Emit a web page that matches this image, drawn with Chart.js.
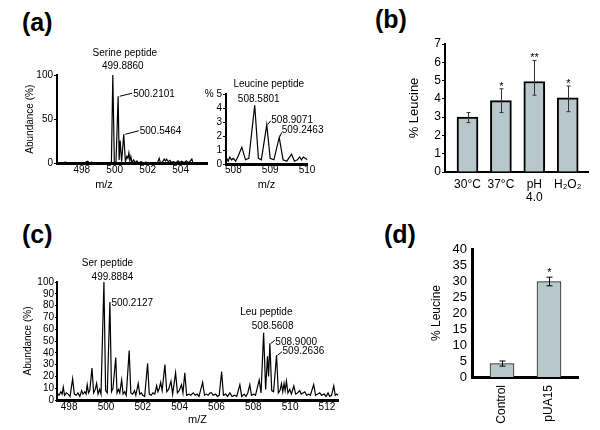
<!DOCTYPE html>
<html><head><meta charset="utf-8">
<script src="https://cdn.jsdelivr.net/npm/chart.js@4.4.1/dist/chart.umd.min.js"></script>
<style>
html,body{margin:0;padding:0;background:#fff;}
#wrap{position:relative;width:600px;height:430px;overflow:hidden;background:#fff;font-family:"Liberation Sans",Arial,sans-serif;}
canvas{position:absolute;}
.lbl{position:absolute;font-weight:bold;font-size:25px;line-height:25px;color:#000;}
</style></head><body>
<div id="wrap">
<div class="lbl" style="left:22px;top:10px">(a)</div>
<div class="lbl" style="left:375px;top:7px">(b)</div>
<div class="lbl" style="left:22px;top:222px">(c)</div>
<div class="lbl" style="left:384px;top:222px">(d)</div>
<canvas id="cA1" width="215" height="155" style="left:0px;top:40px"></canvas>
<canvas id="cA2" width="135" height="125" style="left:195px;top:70px"></canvas>
<canvas id="cB" width="215" height="185" style="left:380px;top:30px"></canvas>
<canvas id="cC" width="345" height="175" style="left:0px;top:255px"></canvas>
<canvas id="cD" width="170" height="200" style="left:420px;top:230px"></canvas>
</div>
<script>
// ---------- DATA ----------
// (a) serine peptide region
const serMz = [496.6,496.8,497.0,497.2,497.45,497.7,497.9,498.1,498.37,498.45,498.6,498.75,498.95,499.15,499.35,499.55,499.72,499.8,499.886,499.98,500.08,500.21,500.27,500.33,500.42,500.5464,500.65,500.74,500.8,500.86,500.92,500.98,501.05,501.15,501.25,501.35,501.45,501.6,501.75,501.9,502.05,502.25,502.45,502.6,502.7,502.78,502.9,503.0,503.08,503.15,503.25,503.35,503.45,503.55,503.7,503.85,503.95,504.05,504.2,504.35,504.45,504.55,504.68,504.75];
const serAb = [1,0.5,1.5,0.5,1,0.5,1,0.5,2.5,0.5,1.5,0.5,1,0.5,1,0.5,1,0,100,0,2,76,4,26,2,33,2,8,6,12,3,8,1,4,1,3,0.5,2,0.5,1.5,0.5,1,0.5,1,6,0.5,2,5,3,5,2,3.5,1,2,1,3,1,2.5,1,3,1,2,5,0.5];
// (a) leucine peptide region
const leuMz = [507.82,507.86,507.9,507.95,508.0,508.06,508.12,508.23,508.33,508.42,508.58,508.68,508.76,508.907,509.0,509.1,509.246,509.35,509.45,509.58,509.66,509.74,509.8,509.85,509.9,509.96,510.0];
const leuAb = [0.4,0.2,0.5,0.3,0.4,0.2,0.5,1.2,0.3,0.4,4.2,0.4,0.3,2.8,0.4,0.3,1.9,0.3,0.2,0.7,0.2,0.3,0.5,0.3,0.5,0.4,0.3];
// (b) growth conditions
const condLabels = ['30°C','37°C',['pH','4.0'],'H₂O₂'];
const condLeu  = [3.0,3.9,4.95,4.05];
const condLow  = [2.7,3.25,4.2,3.3];
const condHigh = [3.25,4.55,6.1,4.7];
const condSig  = ['','*','**','*'];
// (c) full spectrum
const fullMz = [497.34,497.45,497.55,497.62,497.68,497.75,497.85,497.95,498.05,498.19,498.28,498.38,498.48,498.58,498.68,498.75,498.85,498.92,498.98,499.05,499.12,499.24,499.33,499.42,499.49,499.57,499.66,499.73,499.8884,499.98,500.07,500.2127,500.3,500.38,500.53,500.6,500.68,500.75,500.85,500.93,501.02,501.1,501.26,501.35,501.45,501.55,501.62,501.75,501.83,501.92,502.0,502.1,502.26,502.35,502.45,502.55,502.65,502.75,502.82,502.9,502.97,503.05,503.2,503.3,503.4,503.53,503.62,503.78,503.88,503.98,504.1,504.18,504.28,504.38,504.5,504.6,504.74,504.85,504.95,505.05,505.25,505.35,505.45,505.55,505.65,505.73,505.82,505.95,506.05,506.15,506.28,506.38,506.5,506.6,506.73,506.85,506.98,507.1,507.27,507.37,507.5,507.6,507.7,507.81,507.9,508.02,508.12,508.32,508.42,508.5608,508.67,508.77,508.83,508.9,509.0,509.1,509.2636,509.36,509.45,509.53,509.6,509.67,509.73,509.8,509.88,509.98,510.07,510.2,510.3,510.4,510.52,510.6,510.7,510.8,510.9,511.0,511.1,511.28,511.38,511.5,511.61,511.7,511.85,511.95,512.06,512.15,512.25,512.37,512.45,512.52,512.6];
const fullAb = [6,4,7,5,11,4,6,5,3,18,5,4,6,3,8,5,7,5,13,6,8,27,6,9,14,5,9,5,100,8,6,83,7,10,36,6,9,6,17,5,7,4,42,6,5,8,4,14,5,6,4,3,31,5,4,6,5,12,7,10,15,8,30,7,9,16,5,23,6,8,13,6,23,4,5,4,6,4,5,3,15,4,5,4,6,6,4,5,3,4,24,4,5,3,6,3,4,3,13,3,5,3,6,13,4,5,4,17,6,57,9,37,20,48,8,7,38,6,8,14,7,14,8,16,6,9,5,12,5,6,8,5,6,7,4,5,4,13,4,5,6,4,5,3,6,3,4,12,4,5,4];
// (d) strains
const strainLabels = ['Control','pUA15'];
const strainLeu  = [4.2,29.8];
const strainLow  = [3.4,28.5];
const strainHigh = [5.0,31.2];
const strainSig  = ['','*'];
// tick labels
const ticksA1x = [498,500,502,504];
const ticksA1y = [0,50,100];
const ticksA2x = [508,509,510];
const ticksA2y = [0,1,2,3,4,5];
const ticksBy  = [0,1,2,3,4,5,6,7];
const ticksCx  = [498,500,502,504,506,508,510,512];
const ticksCy  = [0,10,20,30,40,50,60,70,80,90,100];
const ticksDy  = [0,5,10,15,20,25,30,35,40];

// ---------- HELPERS ----------
const FONT = '"Liberation Sans", Arial, Helvetica, sans-serif';
Chart.defaults.font.family = FONT;
Chart.defaults.color = '#000';
const BAR_FILL = 'rgb(184,199,203)';

function fit(w, h) {
  return s => {
    if (w !== undefined) s.width = w;
    if (h !== undefined) s.height = h;
    s.paddingLeft = 0; s.paddingRight = 0; s.paddingTop = 0; s.paddingBottom = 0;
  };
}
function setTicks(arr) { return s => { s.ticks = arr.map(v => ({value: v})); }; }
function pts(xs, ys) { return xs.map((x, i) => ({x: x, y: ys[i]})); }

const annot = {
  id: 'annot',
  afterDatasetsDraw(chart, args, o) {
    const ctx = chart.ctx, xs = chart.scales.x, ys = chart.scales.y;
    ctx.save();
    ctx.fillStyle = '#000'; ctx.strokeStyle = '#000'; ctx.lineWidth = 1;
    (o.items || []).forEach(it => {
      let bx, by;
      if (it.px !== undefined) { bx = it.px; by = it.py; }
      else { bx = xs.getPixelForValue(it.x); by = ys.getPixelForValue(it.y); }
      if (it.lead) {
        ctx.beginPath();
        ctx.moveTo(bx + it.lead[0], by + it.lead[1]);
        ctx.lineTo(bx + it.lead[2], by + it.lead[3]);
        ctx.stroke();
      }
      ctx.font = (it.size || 10) + 'px ' + FONT;
      ctx.textAlign = it.align || 'left';
      ctx.textBaseline = 'middle';
      ctx.fillText(it.t, bx + (it.dx || 0), by + (it.dy || 0));
    });
    ctx.restore();
  }
};

const errBars = {
  id: 'errBars',
  afterDatasetsDraw(chart, args, o) {
    if (!o.low) return;
    const ctx = chart.ctx, xs = chart.scales.x, ys = chart.scales.y;
    ctx.save();
    ctx.strokeStyle = o.color || '#000'; ctx.lineWidth = 1;
    o.low.forEach((lo, i) => {
      const px = Math.round(xs.getPixelForValue(i + 1)) + 0.5;
      const yl = ys.getPixelForValue(lo), yh = ys.getPixelForValue(o.high[i]);
      ctx.beginPath();
      ctx.moveTo(px, yl); ctx.lineTo(px, yh);
      ctx.moveTo(px - o.cap, yl); ctx.lineTo(px + o.cap, yl);
      ctx.moveTo(px - o.cap, yh); ctx.lineTo(px + o.cap, yh);
      ctx.stroke();
      if (o.sig[i]) {
        ctx.fillStyle = '#000';
        ctx.font = o.sigSize + 'px ' + FONT;
        ctx.textAlign = 'center'; ctx.textBaseline = 'alphabetic';
        ctx.fillText(o.sig[i], px, yh + o.sigDy);
      }
    });
    ctx.restore();
  }
};

const base = {
  responsive: false, animation: false, devicePixelRatio: 1,
  events: []
};
function noLegend(extra) {
  return Object.assign({legend: {display: false}, tooltip: {enabled: false}}, extra);
}
function lineSet(xs, ys) {
  return {data: pts(xs, ys), borderColor: '#000', borderWidth: 1.2, pointRadius: 0, tension: 0, clip: false, fill: false};
}

// ---------- (a) left: serine peptide ----------
new Chart(document.getElementById('cA1'), {
  type: 'line',
  data: {datasets: [lineSet(serMz, serAb)]},
  options: Object.assign({}, base, {
    layout: {padding: {left: 0, top: 35, right: 8, bottom: 0}},
    plugins: noLegend({annot: {items: [
      {t: 'Serine peptide', x: 499.886, y: 100, dx: 12, dy: -22, align: 'center'},
      {t: '499.8860', x: 499.886, y: 100, dx: 10, dy: -9, align: 'center'},
      {t: '500.2101', x: 500.2101, y: 76, dx: 15, dy: -2, lead: [1.5, 0, 14, -3]},
      {t: '500.5464', x: 500.5464, y: 33, dx: 16, dy: -3, lead: [1.5, 0, 15, -3.5]},
      {t: 'm/z', px: 104, py: 145, align: 'center', size: 11}
    ]}}),
    scales: {
      x: {type: 'linear', min: 496.5, max: 505.6, afterBuildTicks: setTicks(ticksA1x), afterFit: fit(undefined, 31.5),
          grid: {display: false, drawTicks: false}, border: {display: true, width: 3, color: '#000'},
          ticks: {padding: 1, font: {size: 10}, color: '#000', autoSkip: false, maxRotation: 0}},
      y: {min: 0, max: 100, afterBuildTicks: setTicks(ticksA1y), afterFit: fit(57),
          grid: {display: true, drawOnChartArea: false, drawTicks: true, tickLength: 3, color: '#000'},
          border: {display: true, width: 2, color: '#000'},
          ticks: {padding: 1, font: {size: 10}, color: '#000', autoSkip: false},
          title: {display: true, text: 'Abundance (%)', font: {size: 10}, color: '#000', padding: {top: 24, bottom: 0}}}
    }
  }),
  plugins: [annot]
});

// ---------- (a) right: leucine peptide ----------
new Chart(document.getElementById('cA2'), {
  type: 'line',
  data: {datasets: [lineSet(leuMz, leuAb)]},
  options: Object.assign({}, base, {
    layout: {padding: {left: 0, top: 24, right: 23, bottom: 0}},
    plugins: noLegend({annot: {items: [
      {t: 'Leucine peptide', x: 508.58, y: 5, dx: 14, dy: -10, align: 'center'},
      {t: '508.5801', x: 508.58, y: 4.2, dx: 4, dy: -6, align: 'center'},
      {t: '508.9071', x: 508.907, y: 2.8, dx: 4.5, dy: -5, lead: [1, -0.5, 4, -4]},
      {t: '509.2463', x: 509.246, y: 1.9, dx: 2.5, dy: -7, lead: [0.5, -0.5, 2.5, -5]}
    ]}}),
    scales: {
      x: {type: 'linear', min: 507.8, max: 510.0, afterBuildTicks: setTicks(ticksA2x), afterFit: fit(undefined, 31),
          grid: {display: false, drawTicks: false}, border: {display: true, width: 3, color: '#000'},
          ticks: {padding: 0, font: {size: 10}, color: '#000', autoSkip: false, maxRotation: 0},
          title: {display: true, text: 'm/z', font: {size: 11}, color: '#000', padding: {top: 0, bottom: 3.4}}},
      y: {min: 0, max: 5, afterBuildTicks: setTicks(ticksA2y), afterFit: fit(31),
          grid: {display: true, drawOnChartArea: false, drawTicks: true, tickLength: 3, color: '#000'},
          border: {display: true, width: 2, color: '#000'},
          ticks: {padding: 1, font: {size: 10}, color: '#000', autoSkip: false,
                  callback: v => (v === 5 ? '% 5' : String(v))}}
    }
  }),
  plugins: [annot]
});

// ---------- (b) % leucine under conditions ----------
new Chart(document.getElementById('cB'), {
  type: 'bar',
  data: {datasets: [{data: condLeu.map((v, i) => ({x: i + 1, y: v})), backgroundColor: BAR_FILL,
                     borderColor: '#000', borderWidth: 2, borderSkipped: 'start', barThickness: 21}]},
  options: Object.assign({}, base, {
    layout: {padding: {left: 0, top: 14, right: 7, bottom: 0}},
    plugins: noLegend({errBars: {low: condLow, high: condHigh, sig: condSig, cap: 2, color: '#333', sigSize: 11, sigDy: 1}}),
    scales: {
      x: {type: 'linear', offset: false, min: 0.326, max: 4.608, afterBuildTicks: setTicks([1, 2, 3, 4]), afterFit: fit(undefined, 43),
          grid: {display: false, drawTicks: false, offset: false}, border: {display: true, width: 2, color: '#000'},
          ticks: {padding: 6, font: {size: 12, lineHeight: 1.1}, color: '#000', autoSkip: false, maxRotation: 0,
                  callback: v => condLabels[v - 1]}},
      y: {min: 0, max: 7, afterBuildTicks: setTicks(ticksBy), afterFit: fit(65),
          grid: {display: true, drawOnChartArea: false, drawTicks: true, tickLength: 3, color: '#000'},
          border: {display: true, width: 2, color: '#000'},
          ticks: {padding: 1, font: {size: 12}, color: '#000', autoSkip: false},
          title: {display: true, text: '% Leucine', font: {size: 13}, color: '#000', padding: {top: 27, bottom: 0}}}
    }
  }),
  plugins: [errBars]
});

// ---------- (c) full spectrum ----------
new Chart(document.getElementById('cC'), {
  type: 'line',
  data: {datasets: [lineSet(fullMz, fullAb)]},
  options: Object.assign({}, base, {
    layout: {padding: {left: 0, top: 27, right: 7, bottom: 0}},
    plugins: noLegend({annot: {items: [
      {t: 'Ser peptide', x: 499.8884, y: 100, dx: 3.5, dy: -19, align: 'center'},
      {t: '499.8884', x: 499.8884, y: 100, dx: 8.5, dy: -5, align: 'center'},
      {t: '500.2127', x: 500.2127, y: 83, dx: 1.5, dy: 1},
      {t: 'Leu peptide', x: 508.5608, y: 57, dx: 2.7, dy: -20.7, align: 'center'},
      {t: '508.5608', x: 508.5608, y: 57, dx: 9, dy: -6, align: 'center'},
      {t: '508.9000', x: 508.90, y: 48, dx: 5.5, dy: -1.5, lead: [1, 0, 5, -3]},
      {t: '509.2636', x: 509.2636, y: 38, dx: 6, dy: -4, lead: [1, 0, 5.5, -3.5]}
    ]}}),
    scales: {
      x: {type: 'linear', min: 497.34, max: 512.6, afterBuildTicks: setTicks(ticksCx), afterFit: fit(undefined, 30),
          grid: {display: false, drawTicks: false}, border: {display: true, width: 3, color: '#000'},
          ticks: {padding: 1, font: {size: 10}, color: '#000', autoSkip: false, maxRotation: 0},
          title: {display: true, text: 'm/Z', font: {size: 11}, color: '#000', padding: {top: 0, bottom: 3.4}}},
      y: {min: 0, max: 100, afterBuildTicks: setTicks(ticksCy), afterFit: fit(57),
          grid: {display: true, drawOnChartArea: false, drawTicks: true, tickLength: 2, color: '#000'},
          border: {display: true, width: 2, color: '#000'},
          ticks: {padding: 1, font: {size: 10}, color: '#000', autoSkip: false},
          title: {display: true, text: 'Abundance (%)', font: {size: 10}, color: '#000', padding: {top: 22, bottom: 0}}}
    }
  }),
  plugins: [annot]
});

// ---------- (d) % leucine in strains ----------
new Chart(document.getElementById('cD'), {
  type: 'bar',
  data: {datasets: [{data: strainLeu.map((v, i) => ({x: i + 1, y: v})), backgroundColor: BAR_FILL,
                     borderColor: '#222', borderWidth: 1, borderSkipped: 'start', barThickness: 24}]},
  options: Object.assign({}, base, {
    layout: {padding: {left: 0, top: 19, right: 12, bottom: 0}},
    plugins: noLegend({errBars: {low: strainLow, high: strainHigh, sig: strainSig, cap: 3, color: '#000', sigSize: 11, sigDy: -1}}),
    scales: {
      x: {type: 'linear', offset: false, min: 0.362, max: 2.617, afterBuildTicks: setTicks([1, 2]), afterFit: fit(undefined, 53),
          grid: {display: false, drawTicks: false, offset: false}, border: {display: true, width: 3, color: '#000'},
          ticks: {padding: 8, font: {size: 12}, color: '#000', autoSkip: false, minRotation: 90, maxRotation: 90,
                  callback: v => strainLabels[v - 1]}},
      y: {min: 0, max: 40, afterBuildTicks: setTicks(ticksDy), afterFit: fit(52),
          grid: {display: false, drawTicks: false},
          border: {display: true, width: 3, color: '#000'},
          ticks: {padding: 5, font: {size: 13}, color: '#000', autoSkip: false},
          title: {display: true, text: '% Leucine', font: {size: 12}, color: '#000', padding: {top: 9.8, bottom: 0}}}
    }
  }),
  plugins: [errBars]
});
</script>
</body></html>
